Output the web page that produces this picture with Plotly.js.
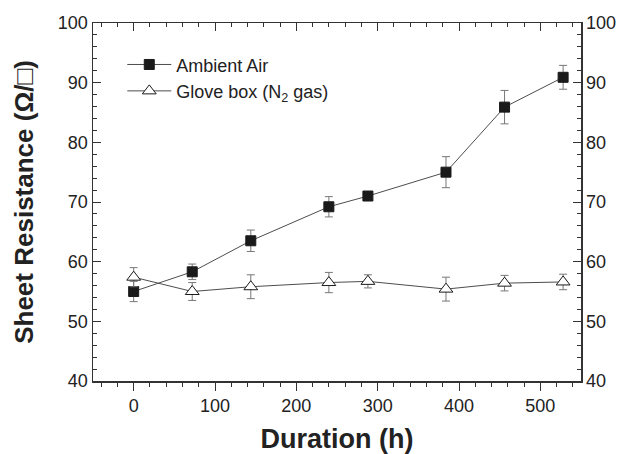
<!DOCTYPE html>
<html>
<head>
<meta charset="utf-8">
<script src="https://cdn.plot.ly/plotly-3.0.1.min.js"></script>
<style>html,body{margin:0;padding:0;background:#fff;}#chart{width:622px;height:454px;}</style>
</head>
<body>
<div id="chart"></div>
<script>
var durationH = [0, 72, 144, 240, 288, 384, 456, 528];
var ambientAir = [55.0, 58.3, 63.5, 69.2, 71.0, 75.0, 85.9, 90.9];
var ambientErr = [1.7, 1.3, 1.8, 1.7, 0.5, 2.6, 2.8, 2.0];
var gloveBox = [57.4, 55.0, 55.8, 56.5, 56.7, 55.4, 56.4, 56.6];
var gloveErr = [1.6, 1.5, 2.0, 1.7, 1.1, 2.0, 1.3, 1.3];
var seriesNames = ['Ambient Air', 'Glove box (N<sub>2</sub> gas)'];
var yTicks = [40, 50, 60, 70, 80, 90, 100];
var xTicks = [0, 100, 200, 300, 400, 500];

var FONT = 'Liberation Sans, Arial, sans-serif';
var lineColor = '#4d4d4d';
var errColor = '#777777';
var axisColor = '#333333';

var traces = [
  {
    x: durationH, y: ambientAir, name: seriesNames[0], type: 'scatter', mode: 'lines+markers',
    line: {color: lineColor, width: 1},
    marker: {symbol: 'square', size: 10, color: '#1a1a1a', line: {color: '#1a1a1a', width: 1}},
    error_y: {type: 'data', array: ambientErr, visible: true, color: errColor, thickness: 1, width: 4}
  },
  {
    x: durationH, y: gloveBox, name: seriesNames[1], type: 'scatter', mode: 'lines+markers',
    line: {color: lineColor, width: 1},
    marker: {symbol: 'triangle-up', size: 12, color: '#ffffff', line: {color: '#1a1a1a', width: 1}},
    error_y: {type: 'data', array: gloveErr, visible: true, color: errColor, thickness: 1, width: 4}
  },
  // invisible companion trace so the mirrored top / right axes are drawn
  {
    x: durationH, y: ambientAir, xaxis: 'x2', yaxis: 'y2', type: 'scatter', mode: 'markers',
    marker: {opacity: 0}, showlegend: false, hoverinfo: 'skip'
  }
];

var xDt = xTicks[1] - xTicks[0];
var yDt = yTicks[1] - yTicks[0];
var axisFont = {family: FONT, size: 18, color: '#222'};
var common = {showgrid: false, zeroline: false, showline: true, linecolor: axisColor, linewidth: 1.5,
              tickcolor: axisColor, tickwidth: 1, ticklen: 8, tickmode: 'linear'};
function ax(extra) { return Object.assign({}, common, extra); }

var layout = {
  width: 622, height: 454,
  margin: {l: 93, r: 41, t: 23, b: 73},
  paper_bgcolor: '#fff', plot_bgcolor: '#fff',
  showlegend: true,
  legend: {x: 0.06, y: 0.935, xanchor: 'left', yanchor: 'top', bgcolor: 'rgba(0,0,0,0)',
           itemwidth: 44, font: {family: FONT, size: 18, color: '#222'}},
  xaxis: ax({
    range: [-50, 550], tick0: xTicks[0], dtick: xDt, ticks: 'outside',
    minor: {dtick: xDt / 5, ticks: 'outside', ticklen: 4, tickcolor: axisColor},
    tickfont: axisFont,
    title: {text: 'Duration (h)', font: {family: FONT, size: 27, color: '#222', weight: 'bold'}, standoff: 16}
  }),
  xaxis2: ax({
    overlaying: 'x', side: 'top', anchor: 'y2', range: [-50, 550], tick0: xTicks[0], dtick: xDt,
    showticklabels: false, ticks: 'inside',
    minor: {dtick: xDt / 5, ticks: 'inside', ticklen: 4, tickcolor: axisColor}
  }),
  yaxis: ax({
    range: [40, 100], tick0: yTicks[0], dtick: yDt, ticks: 'inside',
    minor: {dtick: yDt / 5, ticks: 'inside', ticklen: 4, tickcolor: axisColor},
    tickfont: axisFont,
    title: {text: 'Sheet Resistance (Ω/□)', font: {family: FONT, size: 26, color: '#222', weight: 'bold'}, standoff: 17}
  }),
  yaxis2: ax({
    overlaying: 'y', side: 'right', anchor: 'x2', range: [40, 100], tick0: yTicks[0], dtick: yDt, ticks: 'inside',
    minor: {dtick: yDt / 5, ticks: 'inside', ticklen: 4, tickcolor: axisColor},
    tickfont: axisFont
  })
};

Plotly.newPlot('chart', traces, layout, {displayModeBar: false, staticPlot: true});
</script>
</body>
</html>
